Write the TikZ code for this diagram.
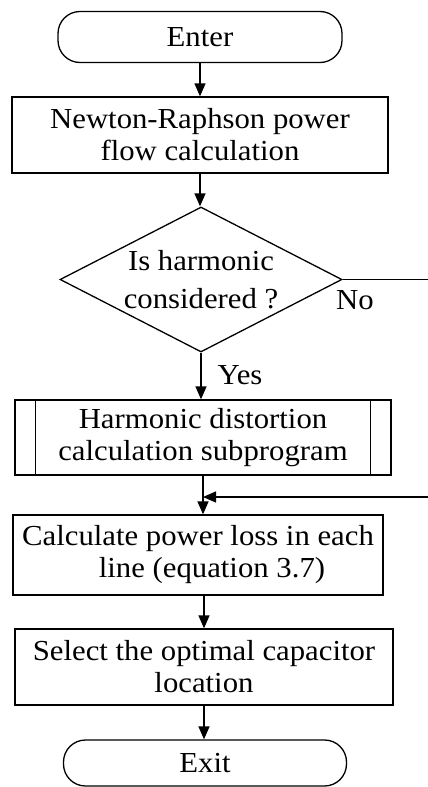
\documentclass[tikz,border=0pt]{standalone}
\usepackage{fontspec}
\setmainfont{Liberation Serif}[FakeStretch=1.06]
\usepackage{tikz}
\usetikzlibrary{arrows.meta, shapes.geometric}

\begin{document}
\begin{tikzpicture}[x=1pt, y=-1pt, line width=1.3pt,
    font=\fontsize{29}{32}\selectfont,
    terminal/.style={draw, rectangle, rounded corners=22pt, inner sep=0pt},
    process/.style={draw, rectangle, align=center, inner sep=0pt},
    decision/.style={draw, diamond, aspect=2, align=center, inner sep=0pt,
        font=\fontsize{29}{38}\selectfont},
    flow/.style={-{Triangle[length=13pt, width=11pt]}}]
    \useasboundingbox (0,0) rectangle (428,787);
    \clip (0,0) rectangle (428,787);
    % flowchart boxes
    \node[terminal, minimum width=284pt, minimum height=51pt] (enter) at (200,37) {Enter};
    \node[process, minimum width=376pt, minimum height=76pt] (nr) at (200,135) {Newton-Raphson power\\flow calculation};
    \node[decision, minimum width=282pt, minimum height=145pt] (dec) at (201,279.5) {Is harmonic\\considered ?};
    \node[process, minimum width=376pt, minimum height=75pt] (harm) at (203,437.5) {Harmonic distortion\\calculation subprogram};
    \draw ([xshift=21pt]harm.north west) -- ([xshift=21pt]harm.south west);
    \draw ([xshift=-21pt]harm.north east) -- ([xshift=-21pt]harm.south east);
    \node[process, minimum width=370pt, minimum height=80pt] (calc) at (198,555) {Calculate power loss in each\\\hspace*{28pt}line (equation 3.7)};
    \node[process, minimum width=378pt, minimum height=76pt] (sel) at (204,667) {Select the optimal capacitor\\location};
    \node[terminal, minimum width=283pt, minimum height=46pt] (exit) at (205,763) {Exit};
    \coordinate (join) at (203,497);
    % connectors
    \draw[flow] (enter) -- (nr);
    \draw[flow] (nr.south) -- (nr.south |- dec.north);
    \draw[flow] (dec.south) -- (dec.south |- harm.north);
    \draw[flow] (harm.south) -- (harm.south |- calc.north);
    \draw[flow] (sel.north |- calc.south) -- (sel.north);
    \draw[flow] (sel.south) -- (sel.south |- exit.north);
    \draw[flow] (dec.east) -- ++(110,0) |- (join);
    \node[inner sep=0pt] (no) at (355,300) {No};
    \node[inner sep=0pt] (yes) at (240,375) {Yes};
\end{tikzpicture}
\end{document}
